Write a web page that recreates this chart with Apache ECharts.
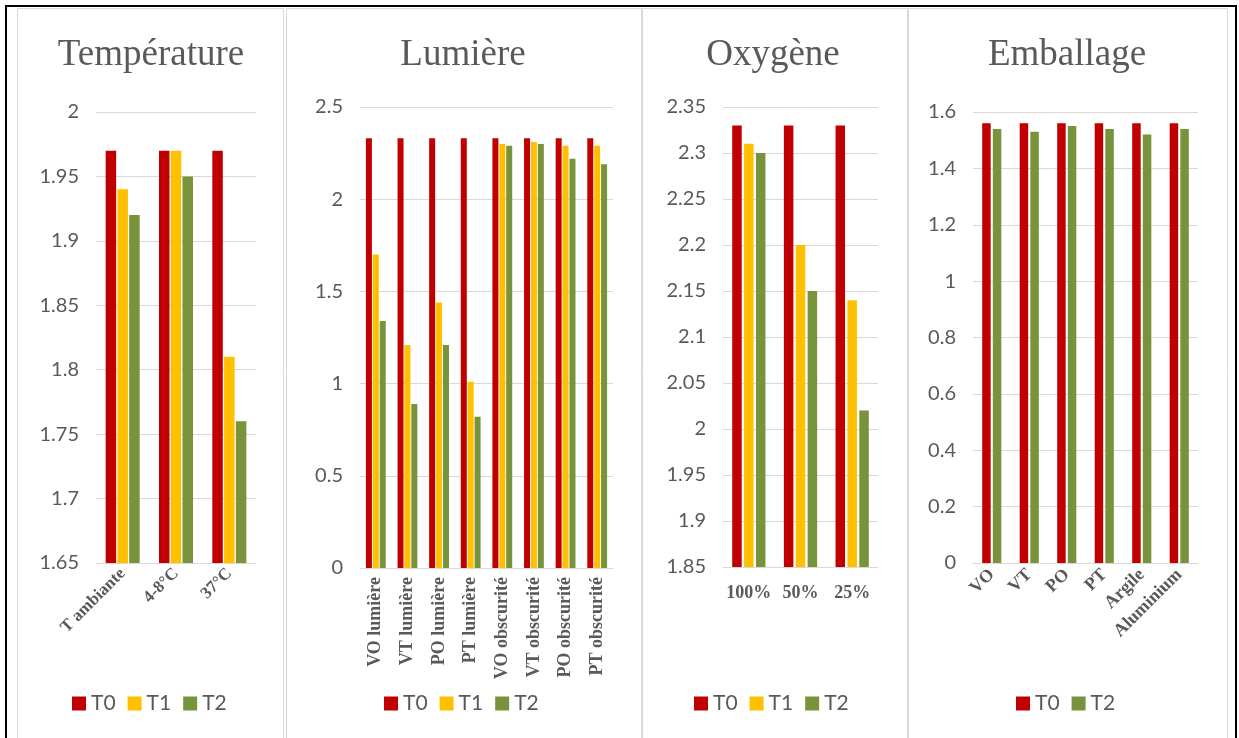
<!DOCTYPE html>
<html lang="fr">
<head>
  <meta charset="UTF-8">
  <title>Température, Lumière, Oxygène, Emballage</title>
  <style>
    html, body { margin: 0; padding: 0; background: #fff; }
    #main { width: 1239px; height: 738px; }
  </style>
</head>
<body>
  <div id="main"></div>
<script src="https://cdn.jsdelivr.net/npm/echarts@6/dist/echarts.min.js"></script>
<script>
// --- données ---
var tempCats = ['T ambiante', '4-8°C', '37°C'];
var tempT0 = [1.97, 1.97, 1.97];
var tempT1 = [1.94, 1.97, 1.81];
var tempT2 = [1.92, 1.95, 1.76];

var lumCats = ['VO lumière', 'VT lumière', 'PO lumière', 'PT lumière',
  'VO obscurité', 'VT obscurité', 'PO obscurité', 'PT obscurité'];
var lumT0 = [2.33, 2.33, 2.33, 2.33, 2.33, 2.33, 2.33, 2.33];
var lumT1 = [1.70, 1.21, 1.44, 1.01, 2.30, 2.31, 2.29, 2.29];
var lumT2 = [1.34, 0.89, 1.21, 0.82, 2.29, 2.30, 2.22, 2.19];

var oxyCats = ['100%', '50%', '25%'];
var oxyT0 = [2.33, 2.33, 2.33];
var oxyT1 = [2.31, 2.20, 2.14];
var oxyT2 = [2.30, 2.15, 2.02];

var embCats = ['VO', 'VT', 'PO', 'PT', 'Argile', 'Aluminium'];
var embT0 = [1.56, 1.56, 1.56, 1.56, 1.56, 1.56];
var embT2 = [1.54, 1.53, 1.55, 1.54, 1.52, 1.54];

var titles = ['Température', 'Lumière', 'Oxygène', 'Emballage'];

var RED = '#C00000', YELLOW = '#FFC000', GREEN = '#77933C';
var TXT = '#595959', GRID = '#D9D9D9';

var myChart = echarts.init(document.getElementById('main'), null, { renderer: 'canvas' });

// panneaux (centre x du titre)
var centers = [151, 463, 773, 1067];

function yAxis(idx, min, max, step) {
  return {
    type: 'value', gridIndex: idx, min: min, max: max, interval: step,
    axisLine: { show: false }, axisTick: { show: false },
    splitLine: { lineStyle: { color: GRID, width: 1 } },
    axisLabel: { color: TXT, fontFamily: 'Lato', fontSize: 20, margin: 17 }
  };
}

function xAxis(idx, cats, rotate, margin, size) {
  return {
    type: 'category', gridIndex: idx, data: cats,
    axisLine: { lineStyle: { color: GRID } },
    axisTick: { show: false },
    axisLabel: {
      interval: 0, rotate: rotate, margin: margin, color: TXT,
      fontFamily: 'Liberation Serif', fontWeight: 'bold', fontSize: size
    }
  };
}

function bar(name, idx, data, color, width, gap, cgap) {
  return {
    name: name, type: 'bar', xAxisIndex: idx, yAxisIndex: idx, data: data,
    barWidth: width, barGap: gap, barCategoryGap: cgap,
    itemStyle: { color: color }, animation: false
  };
}

function legend(left, names) {
  return {
    left: left, top: 693, padding: 0, itemGap: 12,
    itemWidth: 14, itemHeight: 14, icon: 'rect',
    data: names,
    textStyle: { color: TXT, fontFamily: 'Lato', fontSize: 21 }
  };
}

var option = {
  backgroundColor: '#fff',
  animation: false,
  title: titles.map(function (t, i) {
    return {
      text: t, left: centers[i] - 5, top: 50, textAlign: 'center', textVerticalAlign: 'middle',
      textStyle: { color: TXT, fontFamily: 'Liberation Serif', fontWeight: 'normal', fontSize: 37 }
    };
  }),
  legend: [
    legend(72, ['T0', 'T1', 'T2']),
    legend(384, ['T0', 'T1', 'T2']),
    legend(694, ['T0', 'T1', 'T2']),
    legend(1016, ['T0', 'T2'])
  ],
  grid: [
    { left: 96, top: 112, width: 160, height: 451 },
    { left: 360, top: 107, width: 253, height: 461 },
    { left: 723, top: 107, width: 155, height: 460 },
    { left: 973, top: 112, width: 225, height: 451 }
  ],
  xAxis: [
    xAxis(0, tempCats, 45, 8, 17),
    xAxis(1, lumCats, 90, 9, 18),
    xAxis(2, oxyCats, 0, 17, 18),
    xAxis(3, embCats, 45, 9, 18)
  ],
  yAxis: [
    yAxis(0, 1.65, 2, 0.05),
    yAxis(1, 0, 2.5, 0.5),
    yAxis(2, 1.85, 2.35, 0.05),
    yAxis(3, 0, 1.6, 0.2)
  ],
  series: [
    bar('T0', 0, tempT0, RED, 10.5, '12%', '34%'),
    bar('T1', 0, tempT1, YELLOW, 10.5, '12%', '34%'),
    bar('T2', 0, tempT2, GREEN, 10.5, '12%', '34%'),

    bar('T0', 1, lumT0, RED, 6, '15%', '37%'),
    bar('T1', 1, lumT1, YELLOW, 6, '15%', '37%'),
    bar('T2', 1, lumT2, GREEN, 6, '15%', '37%'),

    bar('T0', 2, oxyT0, RED, 9.5, '25%', '38%'),
    bar('T1', 2, oxyT1, YELLOW, 9.5, '25%', '38%'),
    bar('T2', 2, oxyT2, GREEN, 9.5, '25%', '38%'),

    bar('T0', 3, embT0, RED, 8.5, '25%', '49%'),
    bar('T2', 3, embT2, GREEN, 8.5, '25%', '49%')
  ],
  graphic: [
    // cadres gris des quatre graphiques
    { type: 'rect', silent: true, shape: { x: 17.5, y: 8.5, width: 266, height: 740 }, style: { fill: null, stroke: GRID, lineWidth: 1 } },
    { type: 'rect', silent: true, shape: { x: 286.5, y: 8.5, width: 355, height: 740 }, style: { fill: null, stroke: GRID, lineWidth: 1 } },
    { type: 'rect', silent: true, shape: { x: 642.5, y: 8.5, width: 265, height: 740 }, style: { fill: null, stroke: GRID, lineWidth: 1 } },
    { type: 'rect', silent: true, shape: { x: 908.5, y: 8.5, width: 319, height: 740 }, style: { fill: null, stroke: GRID, lineWidth: 1 } },
    // bordure noire extérieure
    { type: 'rect', silent: true, shape: { x: 6, y: 6, width: 1230, height: 745 }, style: { fill: null, stroke: '#000', lineWidth: 2 } }
  ]
};

myChart.setOption(option);
</script>
</body>
</html>
